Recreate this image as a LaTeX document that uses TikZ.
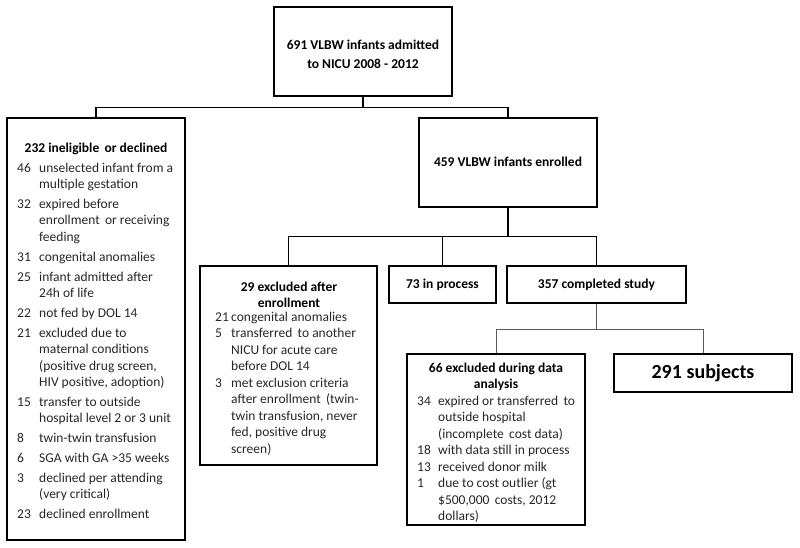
\documentclass[tikz,border=0pt]{standalone}
\usepackage{fontspec}
\setmainfont{Carlito}
\tikzset{
  box/.style={draw=black, line width=1.1pt, inner sep=0pt, align=center, font=\bfseries\fontsize{13.5}{16}\selectfont},
  onebox/.style={box, text height=8.6pt, text depth=1pt},
  bigbox/.style={box, font=\bfseries\fontsize{20}{24}\selectfont},
  link/.style={line width=1.1pt, draw=black},
  thinlink/.style={line width=0.8pt, draw=black!65},
  headtext/.style={font=\bfseries\fontsize{13.5}{16}\selectfont, align=center, inner sep=0pt, anchor=north},
  listtext/.style={font=\fontsize{13.5}{16.5}\selectfont, text=black!85, inner sep=0pt, anchor=north west},
}

\begin{document}
\begin{tikzpicture}[x=1pt, y=-1pt]
\useasboundingbox (0,0) rectangle (800,548);
\node[box, minimum width=178pt, minimum height=89pt] (top) at (363,51.5) {\rule{0pt}{16pt}691 VLBW infants admitted\\[3pt] to NICU 2008 - 2012};
\node[box, minimum width=178pt, minimum height=422pt] (inel) at (96,329) {};
\node[onebox, minimum width=178pt, minimum height=89pt] (enrolled) at (508,162.5) {459 VLBW infants enrolled};
\node[box, minimum width=177pt, minimum height=199pt] (excl) at (288.5,365.5) {};
\node[onebox, minimum width=107pt, minimum height=37pt] (inproc) at (442.5,284.5) {73 in process};
\node[onebox, minimum width=179pt, minimum height=37pt] (done) at (596.5,284.5) {357 completed study};
\node[box, minimum width=178pt, minimum height=171pt] (anal) at (496,439.5) {};
\node[bigbox, minimum width=178pt, minimum height=38pt] (subj) at (703,373) {291 subjects};

\node[headtext] (ineltitle) at (96,142.7) {232 ineligible\, or declined};
\node[listtext] (inellist) at (17,160.4) {\begin{tabular}{@{}p{22pt}@{}l@{}}
46 & unselected infant from a\\
   & multiple gestation\\[3.3pt]
32 & expired before\\
   & enrollment\, or receiving\\
   & feeding\\[3.3pt]
31 & congenital anomalies\\[3.3pt]
25 & infant admitted after\\
   & 24h of life\\[3.3pt]
22 & not fed by DOL 14\\[3.3pt]
21 & excluded due to\\
   & maternal conditions\\
   & (positive drug screen,\\
   & HIV positive, adoption)\\[3.3pt]
15 & transfer to outside\\
   & hospital level 2 or 3 unit\\[3.3pt]
8  & twin-twin transfusion\\[3.3pt]
6  & SGA with GA >35 weeks\\[3.3pt]
3  & declined per attending\\
   & (very critical)\\[3.3pt]
23 & declined enrollment
\end{tabular}};

\node[headtext] (excltitle) at (289,281.6) {29 excluded after\\ enrollment};
\node[listtext] (excllist) at (215,309.6) {\begin{tabular}{@{}p{16pt}@{}l@{}}
21 & congenital anomalies\\
5  & transferred\, to another\\
   & NICU for acute care\\
   & before DOL 14\\
3  & met exclusion criteria\\
   & after enrollment\, (twin-\\
   & twin transfusion, never\\
   & fed, positive drug\\
   & screen)
\end{tabular}};

\node[headtext] (analtitle) at (496,362.7) {66 excluded during data\\ analysis};
\node[listtext] (anallist) at (417,393.4) {\begin{tabular}{@{}p{21pt}@{}l@{}}
34 & expired or transferred\, to\\
   & outside hospital\\
   & (incomplete\, cost data)\\
18 & with data still in process\\
13 & received donor milk\\
1  & due to cost outlier (gt\\
   & \$500,000\, costs, 2012\\
   & dollars)
\end{tabular}};

\draw[link] (top.south) -- ++(0,11) coordinate (split1);
\draw[link] (inel.north) |- (split1) -| (enrolled.north);
\draw[link] (enrolled.south) -- ++(0,29) coordinate (split2);
\draw[link] (excl.north) |- (split2) -| (done.north);
\draw[link] (inproc.north) -- (inproc.north |- split2);
\draw[thinlink] (done.south) -- ++(0,26) coordinate (split3);
\draw[thinlink] (anal.north) |- (split3) -| (subj.north);
\end{tikzpicture}
\end{document}
